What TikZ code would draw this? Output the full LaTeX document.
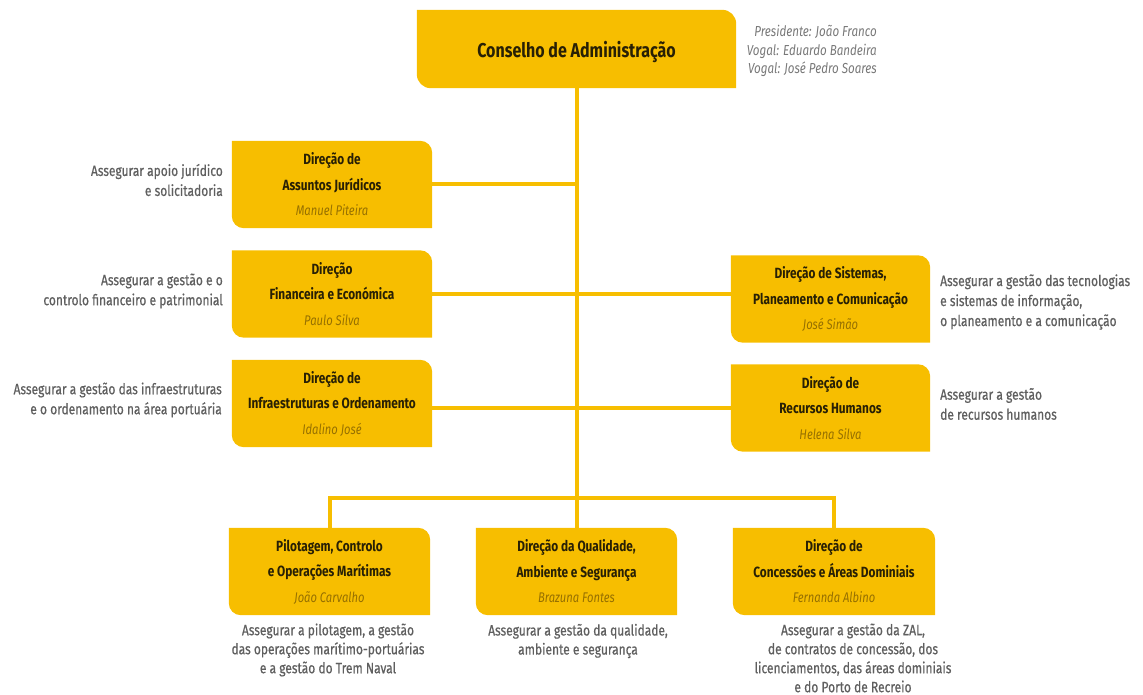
\documentclass[tikz,border=0pt]{standalone}
\usepackage{fontspec}
\setmainfont{Fira Sans}[FakeStretch=0.8]
\newfontfamily\descfont{Fira Sans}[FakeStretch=0.8, FakeBold=0.6]
\usetikzlibrary{backgrounds}
\definecolor{boxc}{RGB}{247,190,0}
\definecolor{titc}{RGB}{40,32,5}
\definecolor{namec}{RGB}{150,112,0}
\definecolor{descc}{RGB}{95,95,95}
\definecolor{presc}{RGB}{120,120,120}
\newcommand{\pname}[1]{\textcolor{namec}{\fontsize{14}{25}\selectfont\mdseries\itshape #1}}
\begin{document}
\begin{tikzpicture}[x=1pt,y=1pt,
  obox/.style={minimum width=200pt, minimum height=87pt, inner sep=0pt, align=center,
    font=\fontsize{14.8}{25.5}\selectfont\bfseries, text=titc},
  conn/.style={draw=boxc, line width=4pt},
  desc/.style={font=\fontsize{15}{20}\selectfont\descfont, text=descc, inner sep=0pt},
]
\useasboundingbox (0,0) rectangle (1143,-695);

\node[obox, minimum width=319pt, minimum height=78pt, text height=19pt, text depth=1pt, font=\fontsize{20}{22}\selectfont\bfseries] (ca) at (576.5,-49) {Conselho de Administração};
\node[desc, font=\fontsize{14.5}{18.5}\selectfont\itshape, text=presc, align=right, anchor=east] (pres) at (877,-51) {Presidente: João Franco\\Vogal: Eduardo Bandeira\\Vogal: José Pedro Soares};

\node[obox] (aj) at (332,-184.5) {Direção de\\Assuntos Jurídicos\\\pname{Manuel Piteira}};
\node[obox] (fe) at (332,-294) {Direção\\Financeira e Económica\\\pname{Paulo Silva}};
\node[obox] (inf) at (332,-403.5) {Direção de\\Infraestruturas e Ordenamento\\\pname{Idalino José}};
\node[obox, minimum width=199pt] (sp) at (830.5,-299) {Direção de Sistemas,\\Planeamento e Comunicação\\\pname{José Simão}};
\node[obox, minimum width=199pt] (rh) at (830.5,-408) {Direção de\\Recursos Humanos\\\pname{Helena Silva}};
\node[obox, minimum width=201pt] (pc) at (329.5,-571.5) {Pilotagem, Controlo\\e Operações Marítimas\\\pname{João Carvalho}};
\node[obox, minimum width=201pt] (qa) at (576.5,-571.5) {Direção da Qualidade,\\Ambiente e Segurança\\\pname{Brazuna Fontes}};
\node[obox, minimum width=202pt] (cc) at (834,-571.5) {Direção de\\Concessões e Áreas Dominiais\\\pname{Fernanda Albino}};

\node[desc, align=right, anchor=east] (d1) at (223,-180) {Assegurar apoio jurídico\\e solicitadoria};
\node[desc, align=right, anchor=east] (d2) at (223,-291) {Assegurar a gestão e o\\controlo financeiro e patrimonial};
\node[desc, align=right, anchor=east] (d3) at (222,-400) {Assegurar a gestão das infraestruturas\\e o ordenamento na área portuária};
\node[desc, align=left, anchor=west] (d4) at (940,-302) {Assegurar a gestão das tecnologias\\e sistemas de informação,\\o planeamento e a comunicação};
\node[desc, align=left, anchor=west] (d5) at (940,-404) {Assegurar a gestão\\de recursos humanos};
\node[desc, align=center, font=\fontsize{15}{19}\selectfont\descfont] (d6) at (328,-650) {Assegurar a pilotagem, a gestão\\das operações marítimo-portuárias\\e a gestão do Trem Naval};
\node[desc, align=center, font=\fontsize{15}{19}\selectfont\descfont] (d7) at (578,-641) {Assegurar a gestão da qualidade,\\ambiente e segurança};
\node[desc, align=center, font=\fontsize{15}{19}\selectfont\descfont] (d8) at (853,-658) {Assegurar a gestão da ZAL,\\de contratos de concessão, dos\\licenciamentos, das áreas dominiais\\e do Porto de Recreio};

\coordinate (bar) at (576.5,-498);

\begin{pgfonlayer}{background}
\draw[conn] (ca.south) -- (bar);
\draw[conn] (aj.east) -- (aj.east -| ca.south);
\draw[conn] (fe.east) -- (fe.east -| sp.west);
\draw[conn] (rh.west) -- (rh.west -| inf.east);
\draw[conn] (pc.north) |- (bar) -| (cc.north);
\draw[conn] (qa.north) -- (bar);
\foreach \n/\r in {ca/14,aj/12,fe/12,inf/12,sp/12,rh/12,pc/12,qa/12,cc/12}
  \fill[boxc] (\n.north west) -- ([xshift=-\r pt]\n.north east)
    arc[start angle=90,end angle=0,radius=\r pt] -- (\n.south east)
    -- ([xshift=\r pt]\n.south west) arc[start angle=270,end angle=180,radius=\r pt] -- cycle;
\end{pgfonlayer}
\end{tikzpicture}
\end{document}
